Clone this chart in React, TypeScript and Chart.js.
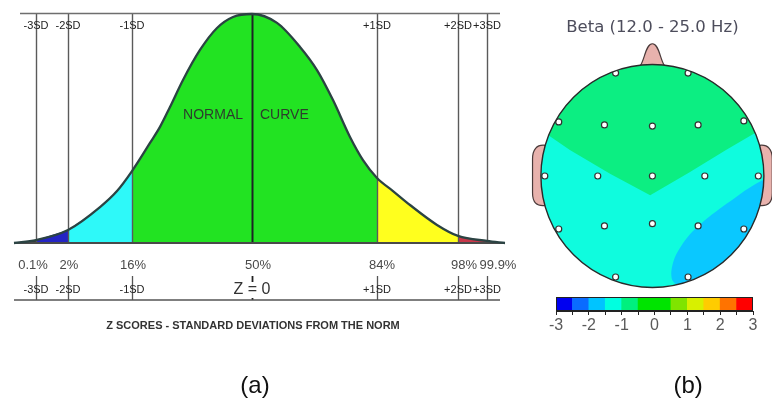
import React, { useEffect, useRef } from "react";
import { Chart, registerables } from "chart.js";

Chart.register(...registerables);

const FONT = "'Liberation Sans', Arial, Helvetica, sans-serif";

// ---------- (a) normal curve ----------
// horizontal position relative to the mean (plot units) and relative height (peak = 100)
const CURVE_X = [-238, -216, -184, -152, -135, -120, -102, -92, -82, -69, -52, -35, -19, 0, 25, 48, 65, 81, 98, 111, 125, 141, 158, 185, 206, 235, 253];
const CURVE_Y = [0, 1.3, 5.7, 15.7, 22.7, 31.4, 43.7, 50.7, 59.4, 71.2, 84.3, 93.9, 98.7, 100, 96.1, 85.6, 75.5, 62.4, 46.3, 36.2, 28.4, 22.7, 16.6, 7.9, 3.1, 0.9, 0];
const SD_POS = [-216, -184, -120, 0, 125, 206, 235];
const SD_TOP_LABELS = ["-3SD", "-2SD", "-1SD", "", "+1SD", "+2SD", "+3SD"];
const SD_BOTTOM_LABELS = ["-3SD", "-2SD", "-1SD", "Z = 0", "+1SD", "+2SD", "+3SD"];
const PCT_LABELS = ["0.1%", "2%", "16%", "50%", "84%", "98%", "99.9%"];
const PCT_POS = [-219, -183, -119, 6, 130, 212, 246];
const REGION_EDGES = [-238, -216, -184, -120, 125, 206, 235, 253];
const REGION_COLORS = ["#3a3a3a", "#2424c4", "#2ef9f9", "#22e322", "#ffff1e", "#c8384a", "#555555"];
const CURVE_LABELS = ["NORMAL", "CURVE"];
const AXIS_TITLE = "Z SCORES - STANDARD DEVIATIONS FROM THE NORM";

// ---------- (b) topographic map ----------
const TOPO_TITLE = "Beta (12.0 - 25.0 Hz)";
const ELECTRODES = ["Fp1", "Fp2", "F7", "F3", "Fz", "F4", "F8", "T3", "C3", "Cz", "C4", "T4", "T5", "P3", "Pz", "P4", "T6", "O1", "O2"];
const ELECTRODE_X = [-0.33, 0.32, -0.84, -0.43, 0, 0.41, 0.82, -0.965, -0.49, 0, 0.47, 0.95, -0.84, -0.43, 0, 0.41, 0.82, -0.33, 0.32];
const ELECTRODE_Y = [0.907, 0.907, 0.476, 0.45, 0.44, 0.45, 0.485, 0, 0, 0, 0, 0, -0.467, -0.44, -0.42, -0.44, -0.467, -0.89, -0.89];
const BASE_LEVEL_COLOR = "#0ffcde"; // -1.5 .. -1
const FRONT_REGION_X = [-1.2, -0.74, -0.38, -0.02, 0.33, 0.66, 1.2, 1.2, -1.2, -1.2];
const FRONT_REGION_Y = [0.54, 0.23, 0.02, -0.17, 0.03, 0.23, 0.54, 1.2, 1.2, 0.54];
const FRONT_REGION_COLOR = "#0cee82"; // -1 .. -0.5
const LOW_REGION_X = [1.2, 1.0, 0.86, 0.73, 0.6, 0.47, 0.36, 0.27, 0.2, 0.17, 0.18, 0.24, 0.3, 0.4, 1.2, 1.2];
const LOW_REGION_Y = [0.05, -0.03, -0.11, -0.2, -0.29, -0.39, -0.49, -0.6, -0.72, -0.84, -0.92, -0.98, -1.1, -1.2, -1.2, 0.05];
const LOW_REGION_COLOR = "#0ac8ff"; // -2 .. -1.5
const SKIN = "#e8b2ad";

// colour bar
const CB_RANGES = [[-3, -2.5], [-2.5, -2], [-2, -1.5], [-1.5, -1], [-1, -0.5], [-0.5, 0.5], [0.5, 1], [1, 1.5], [1.5, 2], [2, 2.5], [2.5, 3]];
const CB_COLORS = ["#0000f0", "#0a6cff", "#00c4ff", "#00ffe0", "#00f07e", "#00e400", "#80e400", "#d8f000", "#ffcc00", "#ff7300", "#ff0000"];
const CB_MIN = -3;
const CB_MAX = 3;
const CB_STEP = 0.5;

function NormalCurve() {
  const ref = useRef<HTMLCanvasElement>(null);
  useEffect(() => {
    const canvas = ref.current!;
    const points = CURVE_X.map((x, i) => ({ x, y: CURVE_Y[i] }));
    const regionSets = REGION_COLORS.map((color, r) => {
      const a = REGION_EDGES[r];
      const b = REGION_EDGES[r + 1];
      return {
        data: points.filter((p) => p.x >= a && p.x <= b),
        borderWidth: 0,
        borderColor: "rgba(0,0,0,0)",
        backgroundColor: color,
        fill: "origin",
        pointRadius: 0,
        cubicInterpolationMode: "monotone",
      };
    });
    const decor = {
      id: "curveDecor",
      beforeDatasetDraw(chart: any, args: any) {
        if (args.index !== 0) return;
        const { ctx } = chart;
        const x = chart.scales.x;
        const y = chart.scales.y;
        const top = y.getPixelForValue(100);
        const base = y.getPixelForValue(0);
        ctx.save();
        SD_POS.forEach((p) => {
          const px = Math.round(x.getPixelForValue(p)) + 0.5;
          ctx.beginPath();
          ctx.strokeStyle = p === 0 ? "#1c2424" : "#5a5a5a";
          ctx.lineWidth = p === 0 ? 2 : 1.4;
          ctx.moveTo(px, top);
          ctx.lineTo(px, base);
          ctx.stroke();
        });
        ctx.beginPath();
        ctx.strokeStyle = "#6e6e6e";
        ctx.lineWidth = 1.5;
        ctx.moveTo(x.getPixelForValue(-232), top - 0.5);
        ctx.lineTo(x.getPixelForValue(248), top - 0.5);
        ctx.stroke();
        ctx.beginPath();
        ctx.strokeStyle = "#4a4a4a";
        ctx.lineWidth = 2;
        ctx.moveTo(x.getPixelForValue(-238), base);
        ctx.lineTo(x.getPixelForValue(253), base);
        ctx.stroke();
        ctx.restore();
      },
      afterDraw(chart: any) {
        const { ctx } = chart;
        const x = chart.scales.x;
        const y = chart.scales.y;
        const top = y.getPixelForValue(100);
        const base = y.getPixelForValue(0);
        ctx.save();
        // lower tick lines and bottom rule
        SD_POS.forEach((p) => {
          const px = Math.round(x.getPixelForValue(p)) + 0.5;
          ctx.beginPath();
          ctx.strokeStyle = p === 0 ? "#222" : "#555";
          ctx.lineWidth = p === 0 ? 1.8 : 1.3;
          ctx.moveTo(px, base + 33);
          ctx.lineTo(px, base + 57);
          ctx.stroke();
        });
        ctx.beginPath();
        ctx.strokeStyle = "#555";
        ctx.lineWidth = 1.5;
        ctx.moveTo(x.getPixelForValue(-238), base + 57);
        ctx.lineTo(x.getPixelForValue(248), base + 57);
        ctx.stroke();

        ctx.textAlign = "center";
        ctx.textBaseline = "middle";
        // top labels
        ctx.font = `11px ${FONT}`;
        ctx.fillStyle = "#222";
        SD_TOP_LABELS.forEach((t, i) => {
          if (t) ctx.fillText(t, x.getPixelForValue(SD_POS[i]), top + 12);
        });
        // curve labels
        ctx.font = `14px ${FONT}`;
        ctx.fillStyle = "#2d3d2d";
        ctx.textAlign = "right";
        ctx.fillText(CURVE_LABELS[0], x.getPixelForValue(-9), y.getPixelForValue(56));
        ctx.textAlign = "left";
        ctx.fillText(CURVE_LABELS[1], x.getPixelForValue(8), y.getPixelForValue(56));
        // percent labels
        ctx.textAlign = "center";
        ctx.font = `13px ${FONT}`;
        ctx.fillStyle = "#4a4a4a";
        PCT_LABELS.forEach((t, i) => ctx.fillText(t, x.getPixelForValue(PCT_POS[i]), base + 22));
        // bottom SD labels
        SD_BOTTOM_LABELS.forEach((t, i) => {
          const px = x.getPixelForValue(SD_POS[i]);
          if (SD_POS[i] === 0) {
            ctx.font = `16px ${FONT}`;
            const w = ctx.measureText(t).width;
            ctx.fillStyle = "#ffffff";
            ctx.fillRect(px - w / 2 - 1, base + 39, w + 2, 16);
            ctx.fillStyle = "#333";
          } else {
            ctx.font = `11px ${FONT}`;
            ctx.fillStyle = "#222";
          }
          ctx.fillText(t, px, base + 47);
        });
        // axis title
        ctx.font = `bold 11px ${FONT}`;
        ctx.fillStyle = "#333";
        ctx.fillText(AXIS_TITLE, x.getPixelForValue(1), base + 83);
        // panel label
        ctx.font = `24px ${FONT}`;
        ctx.fillStyle = "#111";
        ctx.fillText("(a)", x.getPixelForValue(3), base + 143);
        ctx.restore();
      },
    };
    const chart = new Chart(canvas, {
      type: "line",
      data: {
        datasets: [
          {
            data: points,
            borderColor: "#2b4343",
            borderWidth: 2.3,
            pointRadius: 0,
            fill: false,
            cubicInterpolationMode: "monotone",
            clip: false,
          } as any,
          ...(regionSets as any[]),
        ],
      },
      options: {
        animation: false,
        responsive: false,
        devicePixelRatio: 1,
        layout: { padding: { left: 14, right: 15, top: 14, bottom: 165 } },
        plugins: { legend: { display: false }, tooltip: { enabled: false } },
        scales: {
          x: { type: "linear", min: -238, max: 253, display: false },
          y: { type: "linear", min: 0, max: 100, display: false },
        },
      },
      plugins: [decor],
    });
    return () => chart.destroy();
  }, []);
  return <canvas ref={ref} width={520} height={408} style={{ position: "absolute", left: 0, top: 0 }} />;
}

function Topomap() {
  const ref = useRef<HTMLCanvasElement>(null);
  useEffect(() => {
    const canvas = ref.current!;
    const headPlugin = {
      id: "head",
      beforeDatasetsDraw(chart: any) {
        const { ctx } = chart;
        const x = chart.scales.x;
        const y = chart.scales.y;
        const X = (v: number) => x.getPixelForValue(v);
        const Y = (v: number) => y.getPixelForValue(v);
        const cx = X(0);
        const cy = Y(0);
        const r = X(1) - cx;
        ctx.save();
        ctx.fillStyle = SKIN;
        ctx.strokeStyle = "#4a3a3a";
        ctx.lineWidth = 1.2;
        // nose
        ctx.beginPath();
        ctx.moveTo(X(-0.11), Y(0.97));
        ctx.bezierCurveTo(X(-0.07), Y(1.02), X(-0.06), Y(1.165), X(0), Y(1.165));
        ctx.bezierCurveTo(X(0.06), Y(1.165), X(0.07), Y(1.02), X(0.11), Y(0.97));
        ctx.closePath();
        ctx.fill();
        ctx.stroke();
        // ears
        [-1, 1].forEach((s) => {
          ctx.beginPath();
          ctx.moveTo(X(s * 0.96), Y(0.27));
          ctx.bezierCurveTo(X(s * 1.04), Y(0.28), X(s * 1.075), Y(0.23), X(s * 1.075), Y(0.15));
          ctx.lineTo(X(s * 1.075), Y(-0.15));
          ctx.bezierCurveTo(X(s * 1.075), Y(-0.23), X(s * 1.04), Y(-0.27), X(s * 0.96), Y(-0.26));
          ctx.closePath();
          ctx.fill();
          ctx.stroke();
        });
        ctx.beginPath();
        ctx.arc(cx, cy, r, 0, Math.PI * 2);
        ctx.fillStyle = BASE_LEVEL_COLOR;
        ctx.fill();
        ctx.restore();
        ctx.save();
        ctx.beginPath();
        ctx.arc(cx, cy, r, 0, Math.PI * 2);
        ctx.clip();
      },
      afterDatasetsDraw(chart: any) {
        const { ctx } = chart;
        ctx.restore();
        const x = chart.scales.x;
        const y = chart.scales.y;
        const cx = x.getPixelForValue(0);
        const cy = y.getPixelForValue(0);
        const r = x.getPixelForValue(1) - cx;
        ctx.save();
        ctx.beginPath();
        ctx.arc(cx, cy, r, 0, Math.PI * 2);
        ctx.strokeStyle = "#2a2a2a";
        ctx.lineWidth = 1.4;
        ctx.stroke();
        ctx.restore();
      },
      afterDraw(chart: any) {
        const { ctx } = chart;
        const x = chart.scales.x;
        ctx.save();
        ctx.textAlign = "center";
        ctx.textBaseline = "middle";
        ctx.font = "16.5px 'DejaVu Sans', sans-serif";
        ctx.fillStyle = "#4d4d5c";
        ctx.fillText(TOPO_TITLE, x.getPixelForValue(0), 28);
        ctx.font = `24px ${FONT}`;
        ctx.fillStyle = "#111";
        ctx.fillText("(b)", x.getPixelForValue(0.32), 386);
        ctx.restore();
      },
    };
    const chart = new Chart(canvas, {
      type: "line",
      data: {
        datasets: [
          {
            label: "electrodes",
            data: ELECTRODE_X.map((v, i) => ({ x: v, y: ELECTRODE_Y[i], name: ELECTRODES[i] })),
            showLine: false,
            pointRadius: 3,
            pointBackgroundColor: "#ffffff",
            pointBorderColor: "#333",
            pointBorderWidth: 1.2,
          } as any,
          {
            data: FRONT_REGION_X.map((v, i) => ({ x: v, y: FRONT_REGION_Y[i] })),
            showLine: true,
            fill: "shape",
            backgroundColor: FRONT_REGION_COLOR,
            borderWidth: 0,
            borderColor: "rgba(0,0,0,0)",
            pointRadius: 0,
            tension: 0,
          } as any,
          {
            data: LOW_REGION_X.map((v, i) => ({ x: v, y: LOW_REGION_Y[i] })),
            showLine: true,
            fill: "shape",
            backgroundColor: LOW_REGION_COLOR,
            borderWidth: 0,
            borderColor: "rgba(0,0,0,0)",
            pointRadius: 0,
            tension: 0.3,
          } as any,
        ],
      },
      options: {
        animation: false,
        responsive: false,
        devicePixelRatio: 1,
        layout: { padding: { left: 17, right: 1, top: 58, bottom: 114 } },
        plugins: { legend: { display: false }, tooltip: { enabled: false } },
        scales: {
          x: { type: "linear", min: -1.035, max: 1.026, display: false },
          y: { type: "linear", min: -1.0396, max: 1.0396, display: false },
        },
      },
      plugins: [headPlugin],
    });
    return () => chart.destroy();
  }, []);
  return <canvas ref={ref} width={252} height={408} style={{ position: "absolute", left: 520, top: 0 }} />;
}

function ColorBar() {
  const ref = useRef<HTMLCanvasElement>(null);
  useEffect(() => {
    const canvas = ref.current!;
    const outline = {
      id: "cbOutline",
      afterDatasetsDraw(chart: any) {
        const { ctx, chartArea: a } = chart;
        ctx.save();
        ctx.strokeStyle = "#222";
        ctx.lineWidth = 1;
        ctx.strokeRect(a.left + 0.5, a.top + 0.5, a.right - a.left - 1, a.bottom - a.top - 1);
        ctx.restore();
      },
    };
    const chart = new Chart(canvas, {
      type: "bar",
      data: {
        labels: ["scale"],
        datasets: [
          {
            data: CB_RANGES.map((r) => ({ x: r, y: "scale" })) as any,
            backgroundColor: CB_COLORS,
            borderWidth: 0,
            barPercentage: 1,
            categoryPercentage: 1,
          },
        ],
      },
      options: {
        indexAxis: "y",
        animation: false,
        responsive: false,
        devicePixelRatio: 1,
        layout: { padding: { left: 16, right: 19, top: 12, bottom: 9 } },
        plugins: { legend: { display: false }, tooltip: { enabled: false } },
        scales: {
          x: {
            type: "linear",
            min: CB_MIN,
            max: CB_MAX,
            afterFit: (scale: any) => {
              scale.height = 25;
            },
            border: { display: true, color: "#222", width: 1 },
            grid: { display: true, drawOnChartArea: false, drawTicks: true, tickLength: 4, color: "#222" },
            ticks: {
              stepSize: CB_STEP,
              autoSkip: false,
              maxRotation: 0,
              padding: 1,
              color: "#5a5a5a",
              font: { size: 16, family: FONT },
              callback: (v: any) => (Number.isInteger(Number(v)) ? String(v) : ""),
            },
          },
          y: { display: false },
        },
      },
      plugins: [outline],
    });
    return () => chart.destroy();
  }, []);
  return <canvas ref={ref} width={232} height={60} style={{ position: "absolute", left: 540, top: 285 }} />;
}

export default function App() {
  return (
    <div
      style={{
        position: "fixed",
        left: 0,
        top: 0,
        width: 772,
        height: 408,
        overflow: "hidden",
        background: "#ffffff",
      }}
    >
      <NormalCurve />
      <Topomap />
      <ColorBar />
    </div>
  );
}
